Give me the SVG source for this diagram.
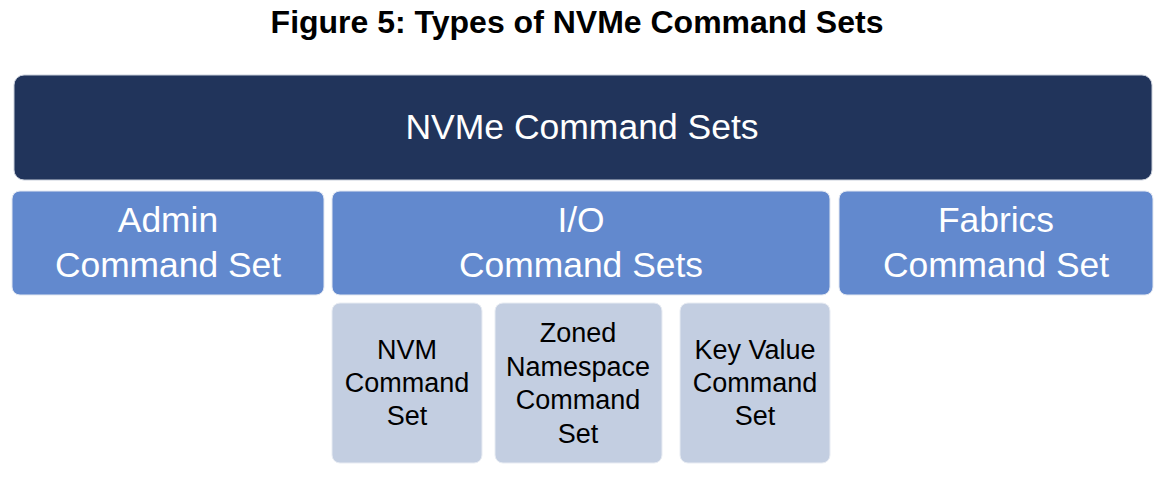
<svg xmlns="http://www.w3.org/2000/svg" width="1168" height="480" viewBox="0 0 1168 480">
<style>
.title{font-family:"Liberation Sans",Arial,sans-serif;font-weight:bold;font-size:32px;fill:#000;text-anchor:middle}
.top{fill:#21345B;stroke:#c9cfdb;stroke-width:1}
.mid{fill:#6289CE;stroke:#e3e8f2;stroke-width:1}
.low{fill:#C3CEE1;stroke:#e8ecf3;stroke-width:1}
.tl{font-family:"Liberation Sans",Arial,sans-serif;font-size:35.5px;fill:#fff;text-anchor:middle}
.ml{font-family:"Liberation Sans",Arial,sans-serif;font-size:35.4px;fill:#fff;text-anchor:middle}
.sl{font-family:"Liberation Sans",Arial,sans-serif;font-size:27px;fill:#000;text-anchor:middle}
</style>
<rect width="1168" height="480" fill="#fff"/>
<text class="title" x="577" y="33">Figure 5: Types of NVMe Command Sets</text>
<g id="connectors"/>
<g id="nvme-command-sets"><rect class="top" x="14" y="75" width="1138" height="105" rx="10"/><text class="tl" x="582" y="139">NVMe Command Sets</text></g>
<g id="admin"><rect class="mid" x="12" y="191" width="312" height="104" rx="8"/><text class="ml" x="168" y="232">Admin</text><text class="ml" x="168" y="277">Command Set</text></g>
<g id="io"><rect class="mid" x="332" y="191" width="498" height="104" rx="8"/><text class="ml" x="581" y="232">I/O</text><text class="ml" x="581" y="277">Command Sets</text></g>
<g id="fabrics"><rect class="mid" x="839" y="191" width="314" height="104" rx="8"/><text class="ml" x="996" y="232">Fabrics</text><text class="ml" x="996" y="277">Command Set</text></g>
<g id="nvm"><rect class="low" x="332" y="303" width="150" height="160" rx="8"/><text class="sl" x="407" y="359">NVM</text><text class="sl" x="407" y="392">Command</text><text class="sl" x="407" y="425">Set</text></g>
<g id="zoned"><rect class="low" x="495" y="303" width="167" height="160" rx="8"/><text class="sl" x="578" y="342">Zoned</text><text class="sl" x="578" y="376">Namespace</text><text class="sl" x="578" y="409">Command</text><text class="sl" x="578" y="443">Set</text></g>
<g id="keyvalue"><rect class="low" x="680" y="303" width="150" height="160" rx="8"/><text class="sl" x="755" y="359">Key Value</text><text class="sl" x="755" y="392">Command</text><text class="sl" x="755" y="425">Set</text></g>
</svg>
